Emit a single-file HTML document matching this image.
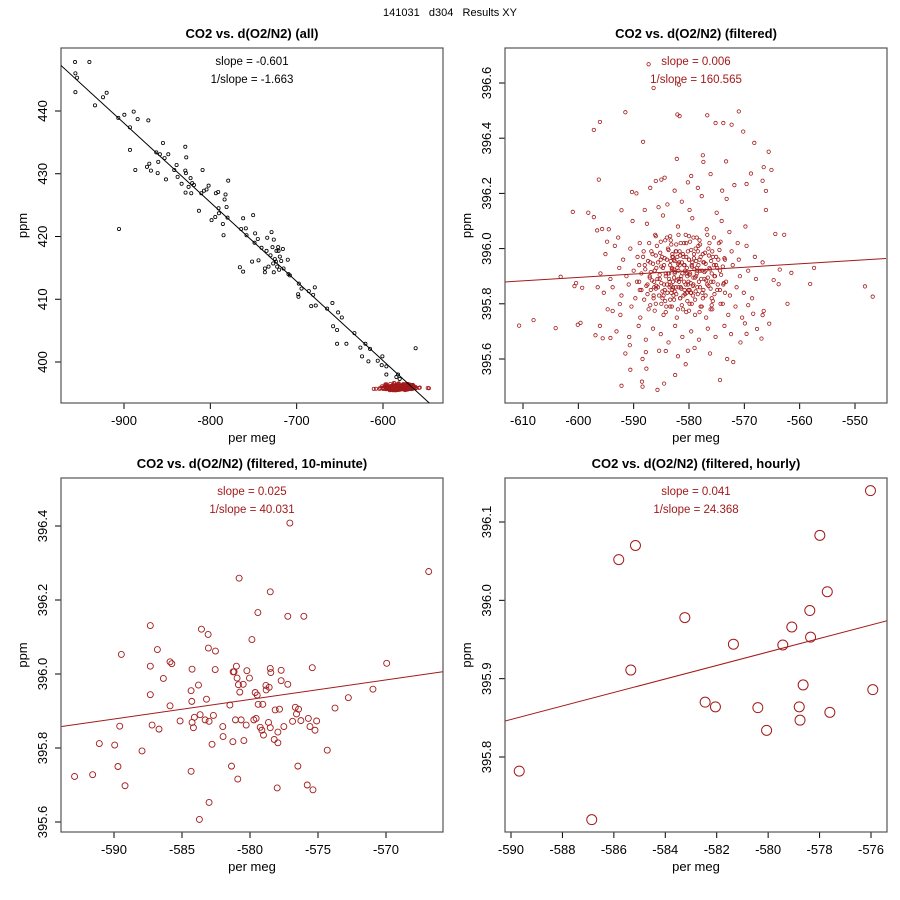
<!DOCTYPE html>
<html><head><meta charset="utf-8"><title>141031 d304 Results XY</title>
<style>
html,body{margin:0;padding:0;background:#fff;}
svg{display:block;font-family:"Liberation Sans",sans-serif;}
</style></head>
<body>
<svg id="chart" width="900" height="900" viewBox="0 0 900 900">
<rect x="0" y="0" width="900" height="900" fill="#fff"/>
<text x="450" y="16" font-size="11" text-anchor="middle" fill="#000" xml:space="preserve">141031   d304   Results XY</text>
</svg>
<script>
// ---- Panel 1 (all) black points ----
const p1x = [-956.7,-956.3,-954.4,-956.3,-940.1,-933.6,-924.3,-920.1,-906.6,-899.6,-893.1,-893.1,-888.8,-886.9,-884.2,-871.8,-905.8,-873.4,-870.7,-868.8,-862.6,-861.0,-860.3,-858.4,-854.9,-853.0,-851.4,-848.7,-841.8,-839.1,-837.9,-833.3,-829.0,-827.9,-829.0,-828.3,-828.7,-825.2,-822.9,-822.1,-821.0,-819.0,-813.2,-810.5,-809.0,-807.4,-804.4,-802.0,-798.6,-794.3,-793.6,-790.9,-790.5,-790.1,-785.5,-784.7,-783.5,-782.4,-781.2,-780.1,-779.3,-765.8,-764.3,-762.0,-762.0,-758.9,-758.1,-751.6,-750.4,-748.8,-748.1,-745.0,-744.2,-740.7,-736.8,-736.8,-734.9,-734.1,-732.6,-730.3,-729.1,-728.0,-727.2,-726.5,-726.5,-725.3,-724.1,-723.4,-722.6,-721.4,-721.0,-720.3,-719.5,-717.9,-716.0,-715.2,-710.3,-709.5,-707.9,-697.5,-698.3,-697.9,-694.4,-685.9,-683.2,-680.9,-679.0,-677.9,-664.7,-658.6,-657.8,-653.2,-653.2,-652.0,-647.7,-642.4,-633.1,-626.2,-624.3,-620.4,-615.0,-616.9,-606.1,-600.7,-601.5,-596.1,-596.1,-562.2,-584.5,-582.6,-580.7];
const p1y = [447.8,446.0,445.3,443.0,447.8,440.9,442.2,442.9,438.9,439.4,437.4,433.8,439.9,430.6,438.7,438.5,421.2,431.1,431.6,430.5,433.4,430.1,431.9,433.1,434.9,432.5,429.1,433.1,430.6,431.4,429.5,428.4,434.3,432.6,430.5,430.1,427.0,427.9,429.3,426.9,428.5,428.2,424.1,426.9,430.6,427.3,427.5,428.1,422.6,423.1,426.9,427.1,424.5,423.7,422.0,420.2,425.9,426.7,424.7,423.0,428.9,415.1,421.2,414.4,422.9,421.3,420.2,416.0,423.4,419.0,420.5,419.6,416.2,418.2,414.9,414.3,417.7,419.8,415.2,417.0,420.7,418.3,415.7,419.5,414.3,416.4,416.0,417.7,415.2,418.3,417.7,414.7,416.8,416.1,418.0,414.9,416.3,414.0,413.8,412.5,410.8,410.4,411.7,411.3,408.9,410.7,411.9,409.0,408.5,409.4,405.7,405.1,402.9,407.9,407.1,402.9,404.6,402.3,400.9,402.9,402.1,400.1,400.2,400.9,399.5,399.3,398.0,402.2,397.6,398.0,397.3];
const p1line = [-973.3, 447.3, -545.9, 393.4];
// ---- Panel 2 (filtered) points ----
const p2x = [-610.7,-608.1,-604.1,-603.2,-601.0,-600.7,-600.4,-600.1,-599.6,-599.3,-598.2,-597.2,-597.2,-596.9,-596.6,-596.5,-596.3,-596.1,-595.7,-596.1,-595.6,-594.8,-594.2,-593.8,-592.5,-592.2,-592.2,-591.5,-590.6,-590.3,-590.7,-588.3,-588.5,-588.4,-587.8,-587.7,-587.3,-586.4,-585.7,-586.0,-584.4,-584.5,-584.2,-582.5,-582.1,-581.8,-581.7,-582.2,-580.6,-580.2,-579.6,-577.5,-577.4,-576.7,-575.2,-574.4,-573.8,-573.3,-572.3,-572.0,-571.0,-570.2,-568.2,-568.8,-569.6,-566.7,-566.5,-566.1,-566.1,-565.6,-565.1,-564.4,-562.8,-562.2,-561.5,-558.1,-557.4,-548.2,-546.8,-565.5,-566.9,-567.7,-569.6,-569.9,-563.8,-563.6,-564.7,-566.5,-566.7,-568.4,-569.3,
-594.5,-592.8,-590.2,-588.9,-587.6,-586.1,-584.7,-583.3,-582.0,-580.6,-579.4,-578.1,-576.8,-575.5,-574.1,-572.7,-571.2,-569.8,-585.5,-581.3,-577.7,-579.9,-583.9,-575.0,-573.2,-588.0,
-595.1,-593.4,-591.9,-590.6,-589.3,-588.2,-587.0,-585.8,-584.9,-583.8,-582.7,-581.7,-580.9,-580.0,-579.1,-578.3,-577.4,-576.5,-575.7,-574.6,-573.5,-572.3,-571.0,-569.6,-568.1,-566.7,-584.3,-581.0,-578.8,-586.6,
-596.0,-594.2,-592.6,-591.3,-590.0,-589.0,-588.0,-587.1,-586.2,-585.3,-584.5,-583.6,-582.9,-582.1,-581.4,-580.7,-580.1,-579.5,-578.7,-578.0,-577.2,-576.3,-575.4,-574.4,-573.3,-572.1,-570.8,-569.3,-567.9,-583.1,-581.9,-579.8,-585.9,
-595.4,-593.8,-592.2,-590.9,-589.7,-588.6,-587.5,-586.4,-585.6,-584.8,-584.0,-583.2,-582.4,-581.6,-580.8,-580.2,-579.3,-578.5,-577.6,-576.7,-575.9,-574.9,-573.8,-572.6,-571.4,-570.1,-568.6,-582.8,-580.4,-586.9,
-594.7,-592.4,-590.4,-588.8,-587.3,-586.0,-584.6,-583.4,-582.2,-581.1,-579.9,-578.9,-577.9,-576.9,-575.8,-574.3,-572.9,-571.6,-570.4,-580.5,-584.1,
-593.1,-590.8,-589.1,-587.8,-586.5,-585.1,-583.7,-582.5,-581.2,-579.6,-578.2,-576.6,-575.2,-573.6,-572.4,-570.7,
-587.0,-585.0,-582.6,-580.2,-578.4,-576.1,-574.0,-571.8,-589.5,
-591.5,-588.4,-585.4,-582.0,-579.0,-576.2,-573.1,
-581.8,-580.3,-579.2,-578.1,-577.0,-582.3,-583.5,-584.2,-585.1,-586.3,-580.9,-579.7,-578.6,-577.5,-576.0,-575.1,-581.5,-582.6,-583.0,-584.4];
const p2y = [395.721,395.741,395.712,395.898,396.133,395.864,395.875,395.724,395.731,395.858,396.130,396.430,396.114,395.686,396.066,395.860,396.250,396.459,396.071,395.720,395.675,396.025,395.676,395.774,395.799,396.139,395.503,396.494,395.561,396.205,395.650,396.387,395.518,395.500,395.625,395.565,396.668,396.582,395.488,396.245,396.257,395.511,395.629,395.542,396.486,396.594,396.480,396.325,395.581,395.630,396.263,396.338,396.314,396.483,396.455,395.524,396.455,396.316,396.449,395.589,396.497,396.424,396.383,396.272,396.234,396.246,396.295,396.209,396.140,396.351,396.285,396.053,396.050,395.800,395.912,395.872,395.930,395.863,395.826,395.728,395.674,395.709,395.691,395.729,395.871,395.924,395.886,395.774,395.759,395.764,395.795,
396.07,396.04,396.10,396.02,396.09,396.05,396.12,396.03,396.08,396.05,396.11,396.03,396.07,396.04,396.10,396.06,396.02,396.08,396.15,396.17,396.19,396.14,396.16,396.13,396.18,396.14,
395.98,396.01,395.96,396.00,395.97,395.99,395.95,396.01,395.97,396.00,395.96,395.99,396.02,395.96,395.98,396.01,395.95,396.00,395.97,396.02,395.96,395.99,395.96,396.01,395.97,395.95,396.03,395.97,396.00,395.98,
395.91,395.89,395.93,395.90,395.92,395.88,395.94,395.90,395.92,395.89,395.94,395.91,395.88,395.93,395.90,395.92,395.88,395.94,395.90,395.92,395.89,395.93,395.90,395.92,395.88,395.94,395.90,395.92,395.89,395.93,395.89,395.91,395.93,
395.84,395.86,395.83,395.87,395.82,395.85,395.87,395.83,395.86,395.82,395.87,395.84,395.86,395.82,395.85,395.87,395.83,395.86,395.84,395.87,395.82,395.85,395.87,395.83,395.86,395.84,395.82,395.83,395.84,395.85,
395.78,395.76,395.79,395.75,395.78,395.80,395.76,395.79,395.75,395.78,395.80,395.76,395.79,395.75,395.78,395.80,395.76,395.79,395.75,395.77,395.79,
395.70,395.68,395.72,395.67,395.71,395.69,395.66,395.72,395.68,395.70,395.67,395.71,395.68,395.72,395.69,395.66,
396.22,396.25,396.21,396.24,396.22,396.27,396.21,396.23,396.20,
395.62,395.60,395.63,395.61,395.64,395.62,395.60,
395.95,395.91,395.87,395.96,395.92,395.99,395.86,395.91,395.96,395.88,395.94,395.84,395.93,395.98,395.88,395.94,395.86,395.91,395.97,395.85];
// dense core of the filtered cloud
const p2cx = [-586.8,-585.2,-583.7,-582.4,-581.1,-579.6,-578.4,-577.1,-575.8,-574.5,-580.2,-583.0,
-588.3,-586.0,-584.4,-582.9,-581.6,-580.5,-579.1,-577.9,-576.4,-575.1,-573.6,-582.1,
-587.4,-585.6,-584.0,-582.6,-581.3,-580.0,-578.7,-577.3,-576.0,-574.7,-579.4,-583.3,
-589.0,-586.5,-585.0,-583.4,-582.0,-580.8,-579.5,-578.3,-577.0,-575.5,-573.9,-581.7,
-587.9,-586.2,-584.7,-583.1,-581.9,-580.4,-579.0,-577.6,-576.2,-574.9,-578.5,-582.8,
-588.6,-586.9,-585.3,-583.8,-582.5,-581.2,-579.9,-578.6,-577.2,-575.9,-574.2,-580.6,
-587.1,-585.7,-584.2,-582.7,-581.5,-580.3,-579.2,-577.8,-576.6,-575.3,-583.6,-578.9,
-589.4,-586.7,-585.0,-583.5,-582.2,-580.9,-579.7,-578.2,-576.9,-575.6,-573.7,-581.8,
-587.7,-586.3,-584.5,-583.2,-581.9,-580.6,-579.3,-578.0,-576.5,-574.8,-582.9,-585.9,
-588.9,-586.0,-584.8,-583.0,-581.4,-580.1,-578.8,-577.4,-576.1,-574.4,-582.6,-579.9,
-587.5,-585.4,-583.9,-582.3,-581.0,-579.6,-578.4,-577.0,-575.4,-573.5,-584.6,-580.7,
-588.1,-586.4,-584.3,-582.7,-581.6,-580.3,-578.9,-577.5,-575.7,-583.4,
-587.2,-585.1,-583.2,-581.5,-579.8,-578.0,-576.3,-574.3,-582.3,-580.5,
-586.0,-584.0,-581.9,-580.0,-578.6,-576.7,-583.4,-579.2,
-587.0,-585.0,-583.1,-581.3,-579.5,-577.7,-575.9,-573.9,
-586.2,-584.2,-582.0,-580.0,-578.1,-576.1];
const p2cy = [395.99,395.985,395.995,395.99,395.98,395.995,395.99,395.985,395.99,395.995,395.99,395.98,
395.97,395.975,395.965,395.97,395.975,395.97,395.965,395.97,395.975,395.97,395.965,395.97,
395.955,395.95,395.96,395.955,395.95,395.96,395.955,395.95,395.955,395.96,395.95,395.955,
395.94,395.945,395.935,395.94,395.945,395.94,395.935,395.94,395.945,395.94,395.935,395.94,
395.925,395.92,395.93,395.925,395.92,395.93,395.925,395.92,395.925,395.93,395.92,395.925,
395.91,395.915,395.905,395.91,395.915,395.91,395.905,395.91,395.915,395.91,395.905,395.91,
395.895,395.89,395.9,395.895,395.89,395.9,395.895,395.89,395.895,395.9,395.89,395.895,
395.88,395.885,395.875,395.88,395.885,395.88,395.875,395.88,395.885,395.88,395.875,395.88,
395.865,395.86,395.87,395.865,395.86,395.87,395.865,395.86,395.865,395.87,395.86,395.865,
395.85,395.855,395.845,395.85,395.855,395.85,395.845,395.85,395.855,395.85,395.845,395.85,
395.835,395.83,395.84,395.835,395.83,395.84,395.835,395.83,395.835,395.84,395.83,395.835,
395.815,395.82,395.81,395.815,395.82,395.81,395.815,395.82,395.81,395.815,
396.02,396.025,396.015,396.02,396.025,396.015,396.02,396.025,396.015,396.02,
396.045,396.04,396.05,396.045,396.04,396.05,396.045,396.04,
395.795,395.8,395.79,395.795,395.8,395.79,395.795,395.8,
395.775,395.77,395.78,395.775,395.77,395.78];
const p2line = [-613.3, 395.879, -544.4, 395.964];
// ---- Panel 3 (10-minute) ----
const p3x = [-592.90,-591.57,-591.08,-589.95,-589.71,-589.19,-589.58,-589.46,-587.94,-587.33,-587.33,-587.33,-587.20,-586.81,-586.69,-586.37,-585.88,-585.75,-585.88,-585.14,-584.33,-584.28,-584.26,-584.33,-584.26,-584.16,-584.09,-583.79,-583.72,-583.67,-583.57,-583.30,-583.20,-583.08,-583.06,-583.01,-583.01,-582.79,-582.69,-582.56,-582.54,-582.00,-581.98,-581.48,-581.36,-581.26,-581.24,-581.17,-581.07,-581.00,-580.95,-580.90,-580.85,-580.80,-580.75,-580.65,-580.50,-580.45,-580.28,-580.23,-580.04,-579.86,-579.72,-579.62,-579.55,-579.47,-579.42,-579.40,-579.25,-579.13,-579.06,-579.01,-578.83,-578.81,-578.64,-578.59,-578.51,-578.51,-578.51,-578.47,-578.22,-578.15,-578.00,-577.95,-577.95,-577.83,-577.71,-577.71,-577.51,-577.22,-577.22,-577.07,-576.87,-576.67,-576.58,-576.48,-576.43,-576.26,-576.04,-575.79,-575.71,-575.59,-575.42,-575.37,-575.22,-575.10,-574.32,-573.75,-572.77,-570.96,-569.95,-566.86];
const p3y = [395.723,395.728,395.812,395.808,395.750,395.698,395.859,396.053,395.792,396.131,396.021,395.944,395.862,396.066,395.851,395.988,396.033,396.028,395.914,395.873,395.955,395.926,396.013,395.737,395.869,395.855,395.883,395.970,395.607,395.890,396.121,395.876,395.932,396.107,396.070,395.872,395.653,395.810,395.888,396.012,396.062,395.858,395.831,395.916,395.751,395.817,396.006,396.006,395.876,396.021,395.989,395.716,395.971,396.259,395.951,395.876,395.972,395.820,395.862,396.009,395.989,396.093,395.876,395.950,395.880,395.943,396.166,395.918,395.856,395.848,395.918,395.835,395.969,395.957,395.869,395.964,396.222,396.015,395.855,396.004,395.823,395.903,395.692,395.843,395.814,395.905,396.010,395.982,395.858,396.156,395.972,396.408,395.872,395.910,395.892,395.751,395.905,395.874,396.156,395.700,395.880,395.858,396.017,395.687,395.848,395.873,395.794,395.908,395.936,395.959,396.029,396.277];
const p3line = [-593.85, 395.858, -565.83, 396.006];
// ---- Panel 4 (hourly) ----
const p4x = [-589.68,-586.86,-585.81,-585.16,-585.34,-583.24,-582.45,-582.05,-581.35,-580.40,-580.06,-579.43,-579.08,-578.79,-578.76,-578.64,-578.38,-578.35,-577.99,-577.70,-577.60,-576.02,-575.93];
const p4y = [395.782,395.720,396.052,396.070,395.911,395.978,395.870,395.864,395.944,395.863,395.834,395.943,395.966,395.864,395.847,395.892,395.987,395.953,396.083,396.011,395.857,396.140,395.886];
const p4line = [-590.22, 395.846, -575.37, 395.974];
// ---- Ticks ----
const p1xt = [-900,-800,-700,-600], p1yt = [400,410,420,430,440];
const p2xt = [-610,-600,-590,-580,-570,-560,-550], p2yt = [395.6,395.8,396.0,396.2,396.4,396.6];
const p3xt = [-590,-585,-580,-575,-570], p3yt = [395.6,395.8,396.0,396.2,396.4];
const p4xt = [-590,-588,-586,-584,-582,-580,-578,-576], p4yt = [395.8,395.9,396.0,396.1];

const NS = "http://www.w3.org/2000/svg";
const svg = document.getElementById("chart");
const RED = "#a31a1a";
function mk(tag, attrs, parent){const e=document.createElementNS(NS,tag);for(const k in attrs)e.setAttribute(k,attrs[k]);(parent||svg).appendChild(e);return e;}
function lin(d0,d1,r0,r1){return v=>r0+(v-d0)*(r1-r0)/(d1-d0);}

function panel(o){
  const g = mk("g",{});
  
  
  const sx = lin(o.xa[0],o.xa[1],o.xa[2],o.xa[3]);
  const sy = lin(o.ya[0],o.ya[1],o.ya[2],o.ya[3]);
  const L=o.box[0],T=o.box[1],R=o.box[2],B=o.box[3];
  const t = mk("text",{x:(L+R)/2,y:T-10,"font-size":13,"font-weight":"bold","text-anchor":"middle"},g);
  t.textContent = o.title;
  
  
  const col = o.ann;
  const a1 = mk("text",{x:(L+R)/2,y:T+17,"font-size":11.5,"text-anchor":"middle",fill:col},g);
  a1.textContent = o.s1;
  
  
  const a2 = mk("text",{x:(L+R)/2,y:T+35,"font-size":11.5,"text-anchor":"middle",fill:col},g);
  a2.textContent = o.s2;
  
  
  const xa = mk("g",{},g);
  
  
  const xt = o.xt;
  mk("line",{x1:sx(xt[0]),x2:sx(xt[xt.length-1]),y1:B,y2:B,stroke:"#000","stroke-width":1},xa);
  for(const v of xt){
    const px=sx(v);
    mk("line",{x1:px,x2:px,y1:B,y2:B+6,stroke:"#000","stroke-width":1},xa);
    const tl=mk("text",{x:px,y:B+22,"font-size":13,"text-anchor":"middle"},xa);
    tl.textContent = String(v);
    
    
  }
  const xl=mk("text",{x:(L+R)/2,y:B+39,"font-size":13,"text-anchor":"middle"},xa);
  xl.textContent="per meg";
  
  
  const ya = mk("g",{},g);
  
  
  const yt=o.yt;
  mk("line",{x1:L,x2:L,y1:sy(yt[0]),y2:sy(yt[yt.length-1]),stroke:"#000","stroke-width":1},ya);
  for(const v of yt){
    const py=sy(v);
    mk("line",{x1:L-6,x2:L,y1:py,y2:py,stroke:"#000","stroke-width":1},ya);
    const tl=mk("text",{x:L-14,y:py,"font-size":13,"text-anchor":"middle",transform:`rotate(-90 ${L-14} ${py})`},ya);
    tl.textContent = v.toFixed(o.yd);
    
    
  }
  const yl=mk("text",{x:L-34,y:(T+B)/2,"font-size":13,"text-anchor":"middle",transform:`rotate(-90 ${L-34} ${(T+B)/2})`},ya);
  yl.textContent="ppm";
  
  
  const bx=mk("rect",{x:L,y:T,width:R-L,height:B-T,fill:"none",stroke:"#555","stroke-width":1.2},g);
  
  
  const cid="clip"+o.id;
  const cp=mk("clipPath",{id:cid},g);
  mk("rect",{x:L,y:T,width:R-L,height:B-T},cp);
  const pg=mk("g",{"clip-path":`url(#${cid})`},g);
  
  
  for(const s of o.series){
    for(let i=0;i<s.x.length;i++){
      const c=mk("circle",{cx:sx(s.x[i]),cy:sy(s.y[i]),r:s.r,fill:"none",stroke:s.c,"stroke-width":s.w},pg);
      
      
    }
  }
  const ln=o.line;
  const l=mk("line",{x1:sx(ln[0]),y1:sy(ln[1]),x2:sx(ln[2]),y2:sy(ln[3]),stroke:o.lc,"stroke-width":1},pg);
  
  
}

panel({id:1,name:"panel-all",title:"CO2 vs. d(O2/N2) (all)",box:[61,48,443,403],
  xa:[-900,-600,124,383],ya:[400,440,362,111],xt:p1xt,yt:p1yt,yd:0,
  s1:"slope = -0.601",s2:"1/slope = -1.663",ann:"#000",lc:"#000",line:p1line,
  series:[{x:p1x,y:p1y,r:1.6,w:0.8,c:"#000",nm:"point-all"},{x:p2x,y:p2y,r:1.6,w:0.8,c:RED,nm:"point-filtered"},{x:p2cx,y:p2cy,r:1.6,w:0.8,c:RED,nm:"point-filtered"}]});
panel({id:2,name:"panel-filtered",title:"CO2 vs. d(O2/N2) (filtered)",box:[505,48,887,403],
  xa:[-610,-550,523,855],ya:[395.6,396.6,359,83],xt:p2xt,yt:p2yt,yd:1,
  s1:"slope = 0.006",s2:"1/slope = 160.565",ann:RED,lc:RED,line:p2line,
  series:[{x:p2x,y:p2y,r:1.7,w:0.8,c:RED,nm:"point-filtered"},{x:p2cx,y:p2cy,r:1.7,w:0.8,c:RED,nm:"point-filtered"}]});
panel({id:3,name:"panel-10-minute",title:"CO2 vs. d(O2/N2) (filtered, 10-minute)",box:[61,478,443,832],
  xa:[-590,-570,114,386],ya:[395.6,396.4,822,526],xt:p3xt,yt:p3yt,yd:1,
  s1:"slope = 0.025",s2:"1/slope = 40.031",ann:RED,lc:RED,line:p3line,
  series:[{x:p3x,y:p3y,r:3,w:0.9,c:RED,nm:"point-10-minute"}]});
panel({id:4,name:"panel-hourly",title:"CO2 vs. d(O2/N2) (filtered, hourly)",box:[505,478,887,832],
  xa:[-590,-576,511,871],ya:[395.8,396.1,757,522],xt:p4xt,yt:p4yt,yd:1,
  s1:"slope = 0.041",s2:"1/slope = 24.368",ann:RED,lc:RED,line:p4line,
  series:[{x:p4x,y:p4y,r:5,w:1,c:RED,nm:"point-hourly"}]});
</script>
</body></html>
